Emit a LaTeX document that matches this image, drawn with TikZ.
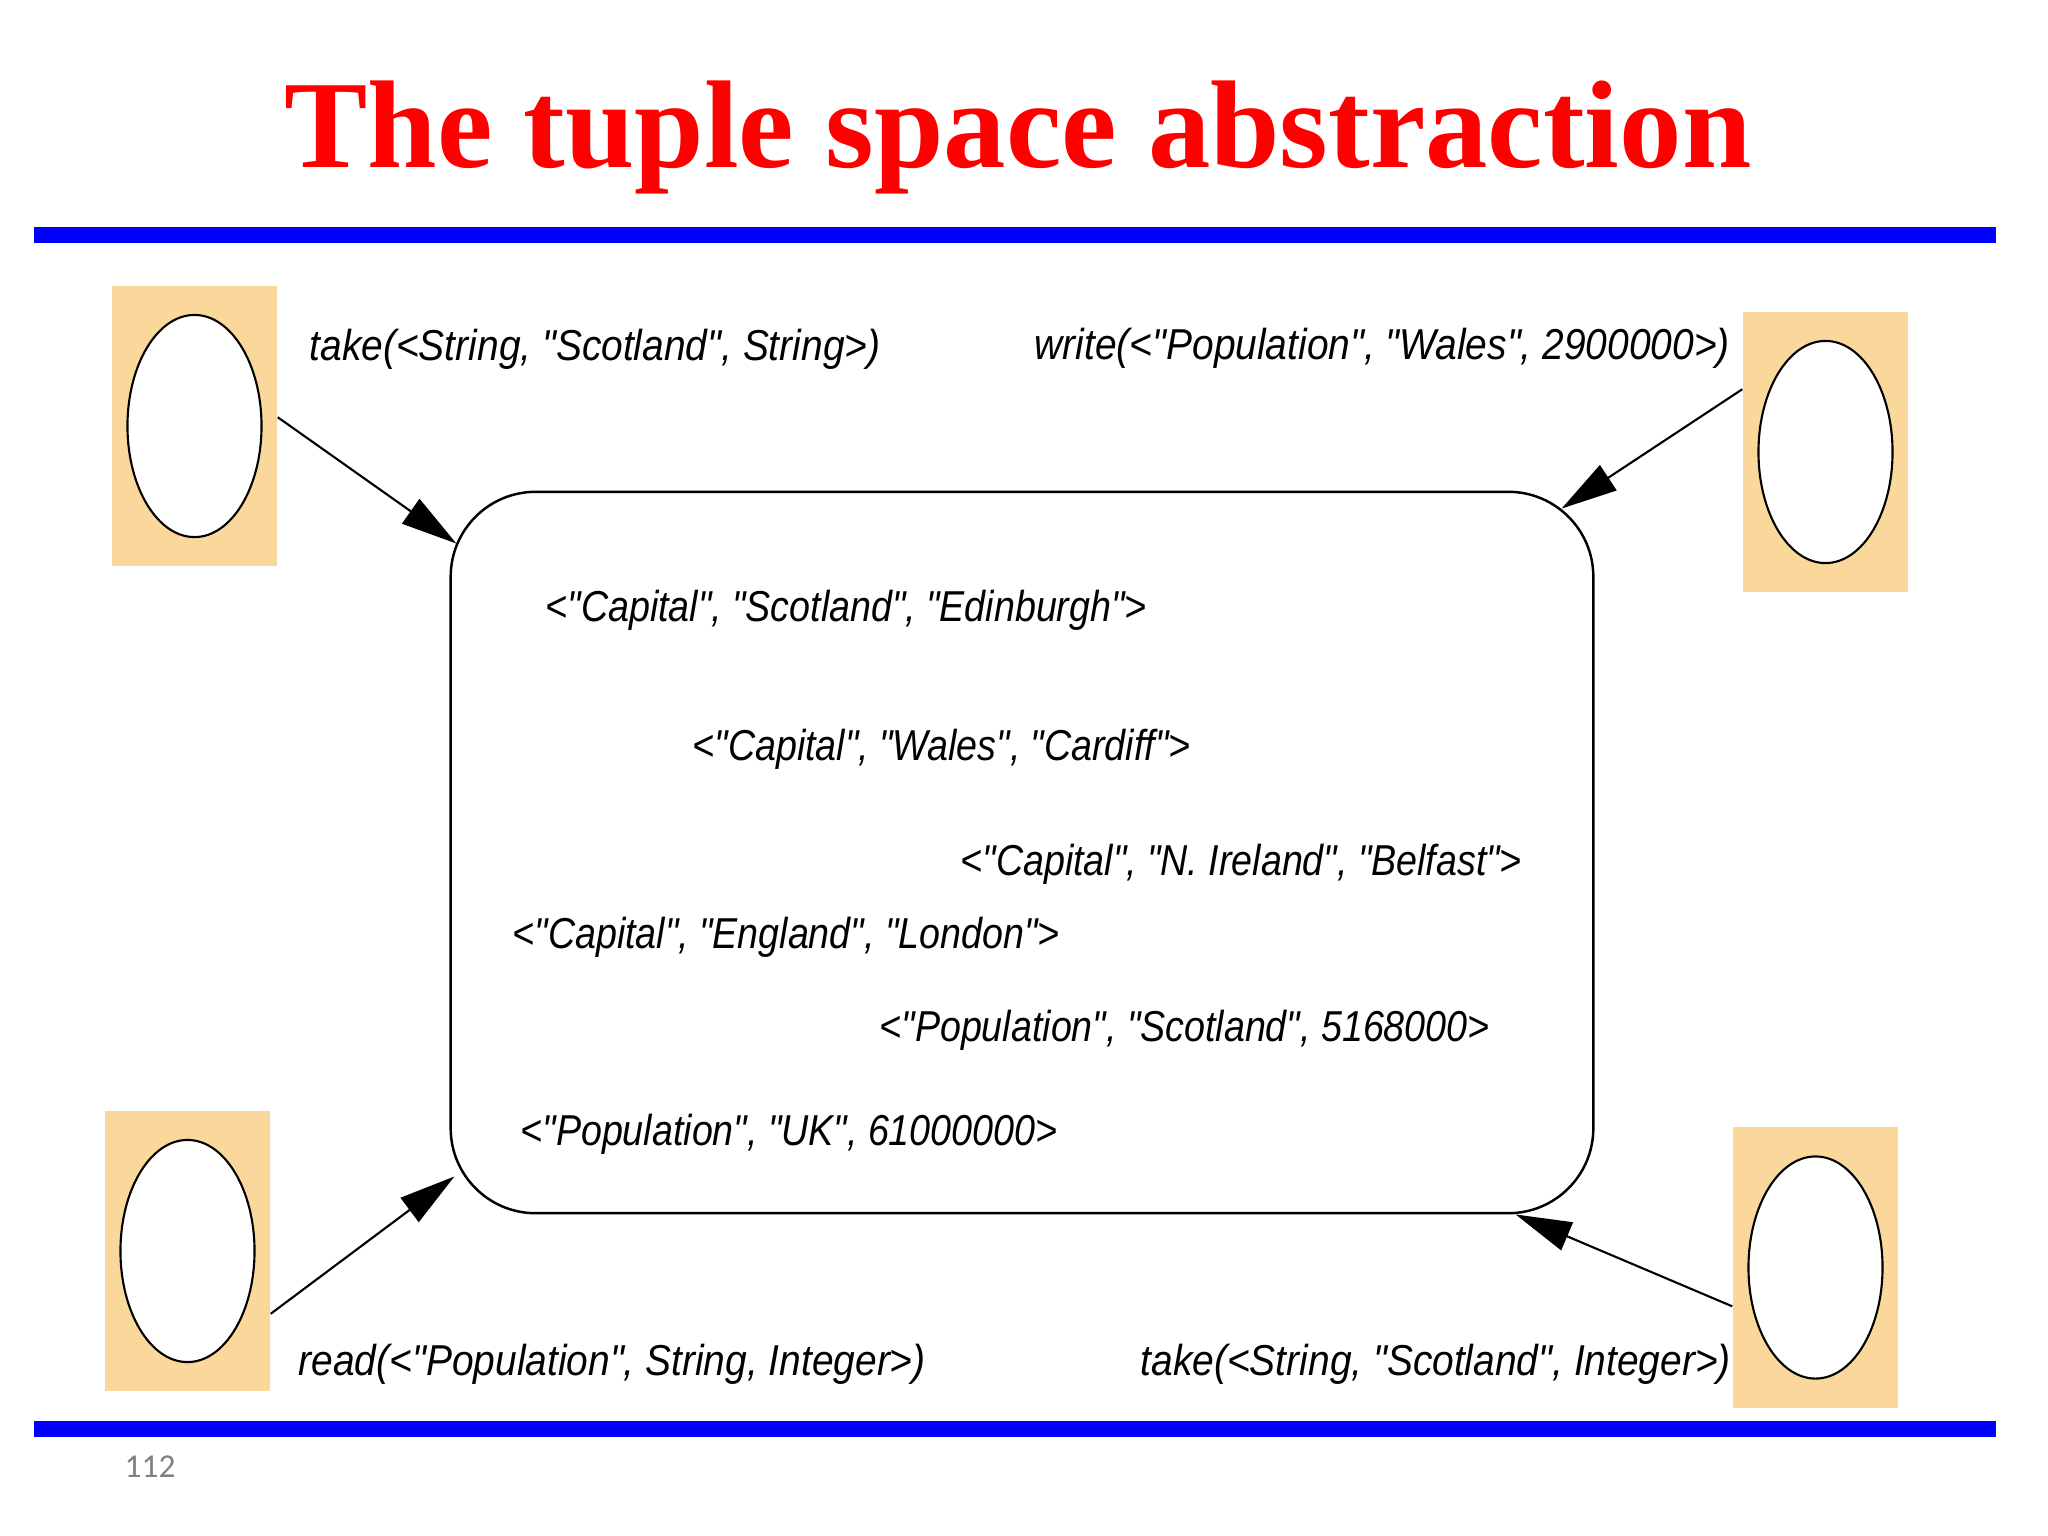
\documentclass[tikz,border=0pt]{standalone}
\usepackage{fontspec}
\setmainfont{Liberation Serif}
\newfontfamily\tuplefont{Liberation Sans}[FakeStretch=0.9]
\newfontfamily\spacefont{Liberation Sans}[FakeStretch=0.87]
\newfontfamily\numfont{Carlito}
\usetikzlibrary{arrows.meta,shapes.geometric}
\definecolor{procorange}{RGB}{250,216,155}
\definecolor{slidegray}{RGB}{128,128,128}
\tikzset{
  process/.style={fill=procorange,minimum width=1.65cm,minimum height=2.8cm,inner sep=0pt},
  agent/.style={ellipse,draw,fill=white,line width=0.6pt,minimum width=1.34cm,minimum height=2.22cm,inner sep=0pt},
  tuple/.style={font=\tuplefont\itshape\fontsize{12.3}{14}\selectfont,inner sep=0pt,anchor=base west},
  stored/.style={tuple,font=\spacefont\itshape\fontsize{12.3}{14}\selectfont},
  op/.style={-{Triangle[length=0.56cm,width=0.3cm]},line width=0.6pt},
}
\begin{document}
\begin{tikzpicture}[x=0.01cm,y=-0.01cm]
        \useasboundingbox (0,0) rectangle (2048,1536);
        \node
          [text=red,font=\bfseries\fontsize{35.5}{40}\selectfont,anchor=base]
          (title) at (1018,167) {The tuple space abstraction};
        \fill [blue] (34,227) rectangle (1996,243);
        \fill [blue] (34,1421) rectangle (1996,1437);
        \node
          [text=slidegray,font=\numfont\fontsize{9.5}{11}\selectfont,anchor=base west,inner sep=0pt]
          (page) at (124,1477) {112};
        \node
          [draw,rounded corners=0.85cm,line width=0.7pt,minimum width=11.42cm,minimum height=7.21cm]
          (space) at (1022,852.5) {};
        \node [stored] (edinburgh) at (545,621) {<"Capital", "Scotland", "Edinburgh">};
        \node [stored] (cardiff) at (692,760) {<"Capital", "Wales", "Cardiff">};
        \node [stored] (belfast) at (960,875) {<"Capital", "N. Ireland", "Belfast">};
        \node [stored] (london) at (512,948) {<"Capital", "England", "London">};
        \node [stored] (popscot) at (879,1041) {<"Population", "Scotland", 5168000>};
        \node [stored] (popuk) at (520,1145) {<"Population", "UK", 61000000>};
        \node [process] (procA) at (194.5,426) {};
        \node [process] (procB) at (1825.5,452) {};
        \node [process] (procC) at (187.5,1251) {};
        \node [process] (procD) at (1815.5,1267.5) {};
        \foreach \p in {A,B,C,D}
          \node [agent] (agent\p) at (proc\p) {};
        \coordinate (inA) at ([shift={(7,53)}]space.north west);
        \coordinate (inB) at ([shift={(-33,18)}]space.north east);
        \coordinate (inC) at ([shift={(5,-38)}]space.south west);
        \coordinate (inD) at ([shift={(-79,0)}]space.south east);
        \draw [op] (procA.6) -- (inA);
        \draw [op] (procB.143) -- (inB);
        \draw [op] (procC.-37) -- (inC);
        \draw [op] (procD.205) -- (inD);
        \node [tuple] (takeA) at (309,360) {take(<String, "Scotland", String>)};
        \node [tuple] (writeB) at (1034,359) {write(<"Population", "Wales", 2900000>)};
        \node [tuple] (readC) at (298,1375) {read(<"Population", String, Integer>)};
        \node [tuple] (takeD) at (1140,1375) {take(<String, "Scotland", Integer>)};
      \end{tikzpicture}
\end{document}
